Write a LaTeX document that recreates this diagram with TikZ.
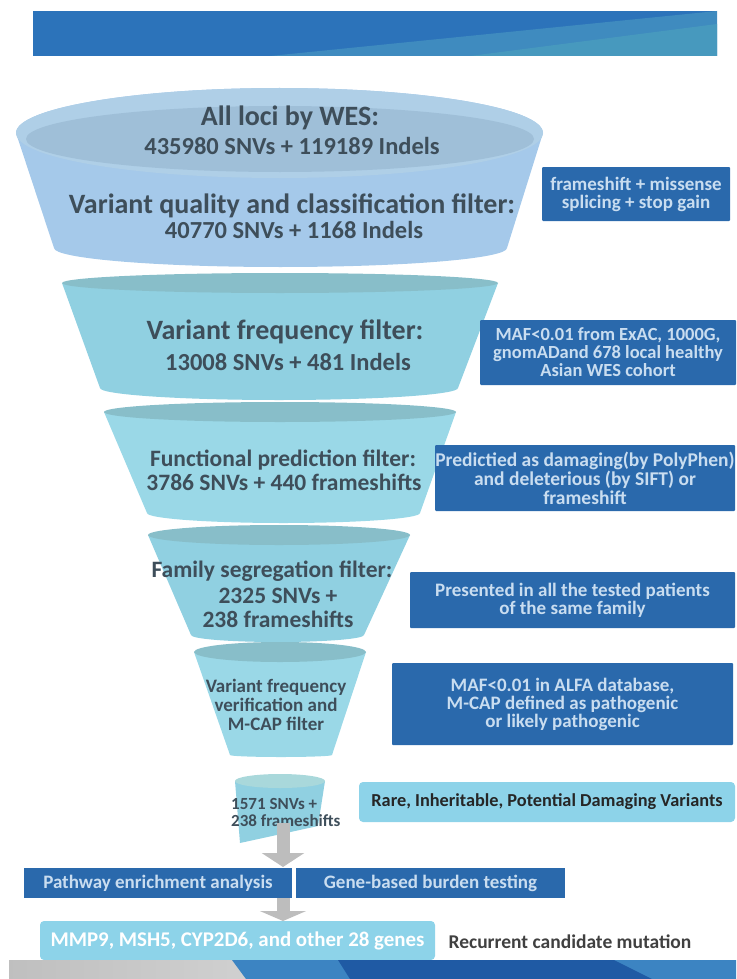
\documentclass[tikz,border=0pt]{standalone}
\usepackage{fontspec}
\setmainfont{Carlito}
\usetikzlibrary{arrows.meta}

\definecolor{bannerblue}{HTML}{2C73BA}
\definecolor{bannermid}{HTML}{3F8BBF}
\definecolor{bannerteal}{HTML}{4799BE}
\definecolor{onebody}{HTML}{A5C9EA}
\definecolor{onerim}{HTML}{AFCFE7}
\definecolor{onetop}{HTML}{9FBFD8}
\definecolor{tealbody}{HTML}{90D0E1}
\definecolor{palebody}{HTML}{9AD8E7}
\definecolor{tealtop}{HTML}{88BEC9}
\definecolor{paletop}{HTML}{A9D8DB}
\definecolor{funtext}{HTML}{3E4E5A}
\definecolor{noteblue}{HTML}{2A69AC}
\definecolor{notetext}{HTML}{C9DDF0}
\definecolor{skyblue}{HTML}{8DD3E9}
\definecolor{arrowgray}{HTML}{BDBDBD}
\definecolor{stripblue}{HTML}{3C84C2}
\definecolor{stripdark}{HTML}{1F5AA4}

\begin{document}
\begin{tikzpicture}[x=1pt,y=-1pt,
  fbig/.style={anchor=base,text=funtext,inner sep=0pt,text height=0.7em,text depth=0pt,
    font=\bfseries\fontsize{28}{30}\selectfont},
  fmid/.style={anchor=base,text=funtext,inner sep=0pt,text height=0.7em,text depth=0.15em,
    font=\bfseries\fontsize{24.5}{26}\selectfont},
  fsmall/.style={anchor=base,text=funtext,inner sep=0pt,text height=0.7em,text depth=0.1em,
    font=\bfseries\fontsize{23.5}{25}\selectfont},
  ftiny/.style={anchor=base,text=funtext,inner sep=0pt,text height=0.68em,text depth=0pt,
    font=\bfseries\fontsize{19}{19}\selectfont},
  note/.style={fill=noteblue,text=notetext,rounded corners=1pt,inner sep=0pt,align=center,
    font=\bfseries\fontsize{19}{18}\selectfont},
  result/.style={fill=skyblue,rounded corners=4pt,inner sep=0pt},
  grayarrow/.style={draw=arrowgray,line width=13pt,-{Triangle[width=42pt,length=14pt]}}]
  \useasboundingbox (0,0) rectangle (736,979);

  % Banner
  \fill[bannerblue] (33,11) rectangle (717,56);
  \fill[bannermid] (270,56) -- (717,11) -- (717,56) -- cycle;
  \fill[bannerteal] (470,56) -- (717,24) -- (717,56) -- cycle;

  % Funnel 1
  \fill[onebody] (16,133) -- (54,248) arc[start angle=180,end angle=0,x radius=226.5,y radius=19]
    -- (543,133) arc[start angle=0,end angle=-180,x radius=263.5,y radius=45] -- cycle;
  \fill[onerim] (279.5,133) ellipse[x radius=263.5,y radius=45];
  \fill[onetop] (280,139) ellipse[x radius=254,y radius=33]; % inner rim
  \node[fbig] (allloci) at (290,125) {All loci by WES:};
  \node[fmid] (allcount) at (292,154) {435980 SNVs + 119189 Indels};
  \node[fbig] (qualfilt) at (292,213) {Variant quality and classification filter:};
  \node[fmid] (qualcount) at (294,238.5) {40770 SNVs + 1168 Indels};

  % Funnel 2
  \fill[tealbody] (62,283) -- (100,388) arc[start angle=180,end angle=0,x radius=179,y radius=12]
    -- (498,283) -- cycle;
  \fill[tealtop] (280,283) ellipse[x radius=218,y radius=10];
  \node[fbig] (freqfilt) at (285,339) {Variant frequency filter:};
  \node[fmid] (freqcount) at (288,370) {13008 SNVs + 481 Indels};

  % Funnel 3
  \fill[palebody] (104,412) -- (147,513) arc[start angle=180,end angle=0,x radius=136.5,y radius=10]
    -- (456,412) -- cycle;
  \fill[tealtop] (280,412) ellipse[x radius=176,y radius=10];
  \node[fsmall] (funcfilt) at (283,466) {Functional prediction filter:};
  \node[fsmall] (funccount) at (284,490) {3786 SNVs + 440 frameshifts};

  % Funnel 4
  \fill[tealbody] (148,535) -- (191,635) arc[start angle=180,end angle=0,x radius=86.5,y radius=7]
    -- (410,535) -- cycle;
  \fill[tealtop] (279,535) ellipse[x radius=131,y radius=10];
  \node[fsmall] (famfilt) at (272,577) {Family segregation filter:};
  \node[fsmall] (famcount) at (278,603) {2325 SNVs +};
  \node[fsmall] (famshift) at (278,627) {238 frameshifts};

  % Funnel 5
  \fill[palebody] (194,652) -- (230,755) arc[start angle=180,end angle=0,x radius=51,y radius=2]
    -- (366,652) -- cycle;
  \fill[tealtop] (280,652) ellipse[x radius=86,y radius=10];
  \node[ftiny] (verfilt) at (276,692.5) {Variant frequency};
  \node[ftiny] (verand) at (276,711.5) {verification and};
  \node[ftiny] (mcap) at (276,730.5) {M-CAP filter};

  % Funnel 6
  \fill[tealbody] (235,781) -- (240,843) -- (318,826) -- (325,781) -- cycle;
  \fill[paletop] (280,781) ellipse[x radius=45,y radius=7];
  \node[anchor=base west,inner sep=0pt,text=funtext,font=\bfseries\fontsize{17}{19}\selectfont]
    (finalsnv) at (231,809) {1571 SNVs +};
  \node[anchor=base west,inner sep=0pt,text=funtext,font=\bfseries\fontsize{17}{19}\selectfont]
    (finalshift) at (231,826) {238 frameshifts};

  % Notes
  \node[note,minimum width=188pt,minimum height=54pt] (qualnote) at (636,194)
    {frameshift + missense\\splicing + stop gain};
  \node[note,minimum width=256pt,minimum height=65pt,font=\bfseries\fontsize{18.5}{18}\selectfont]
    (freqnote) at (608,352.5) {MAF<0.01 from ExAC, 1000G,\\gnomADand 678 local healthy\\Asian WES cohort};
  \node[note,minimum width=300pt,minimum height=66pt,font=\bfseries\fontsize{19.5}{19}\selectfont]
    (funcnote) at (585,478) {Predictied as damaging(by PolyPhen)\\and deleterious (by SIFT) or\\frameshift};
  \node[note,minimum width=325pt,minimum height=56pt] (famnote) at (572.5,600)
    {Presented in all the tested patients\\of the same family};
  \node[note,minimum width=341pt,minimum height=82pt] (vernote) at (562.5,704)
    {MAF<0.01 in ALFA database,\\M-CAP defined as pathogenic\\or likely pathogenic};
  \node[result,minimum width=376pt,minimum height=40pt,text=black!85,
    font=\bfseries\fontsize{18.3}{20}\selectfont] (rarenote) at (547,802)
    {Rare, Inheritable, Potential Damaging Variants};

  % Analysis
  \node[note,rounded corners=0pt,minimum width=268.5pt,minimum height=30pt] (pathway) at (158,883)
    {Pathway enrichment analysis};
  \node[note,rounded corners=0pt,minimum width=269pt,minimum height=30pt] (burden) at (430.5,883)
    {Gene-based burden testing};
  \node[result,minimum width=395pt,minimum height=39pt,text=white,
    font=\bfseries\fontsize{20.9}{22}\selectfont] (genes) at (237.5,940.5)
    {MMP9, MSH5, CYP2D6, and other 28 genes};
  \node[anchor=base,inner sep=0pt,text=black!75,font=\bfseries\fontsize{19.5}{20}\selectfont]
    (recurrent) at (570,948) {Recurrent candidate mutation};

  % Arrows
  \coordinate (stem) at (283,823);
  \coordinate (split) at (283,867);
  \coordinate (join) at (283,898);
  \coordinate (merge) at (283,921);
  \draw[grayarrow] (stem) -- (split);
  \draw[grayarrow,-{Triangle[width=46pt,length=10pt]}] (join) -- (merge);

  % Bottom strip
  \shade[left color=black!25,right color=black!5] (9,960) rectangle (736,979);
  \fill[stripblue] (232,960) -- (736,960) -- (736,979) -- (246,979) -- cycle;
  \fill[stripdark] (338,960) -- (614,960) -- (652,979) -- (350,979) -- cycle;
\end{tikzpicture}
\end{document}
